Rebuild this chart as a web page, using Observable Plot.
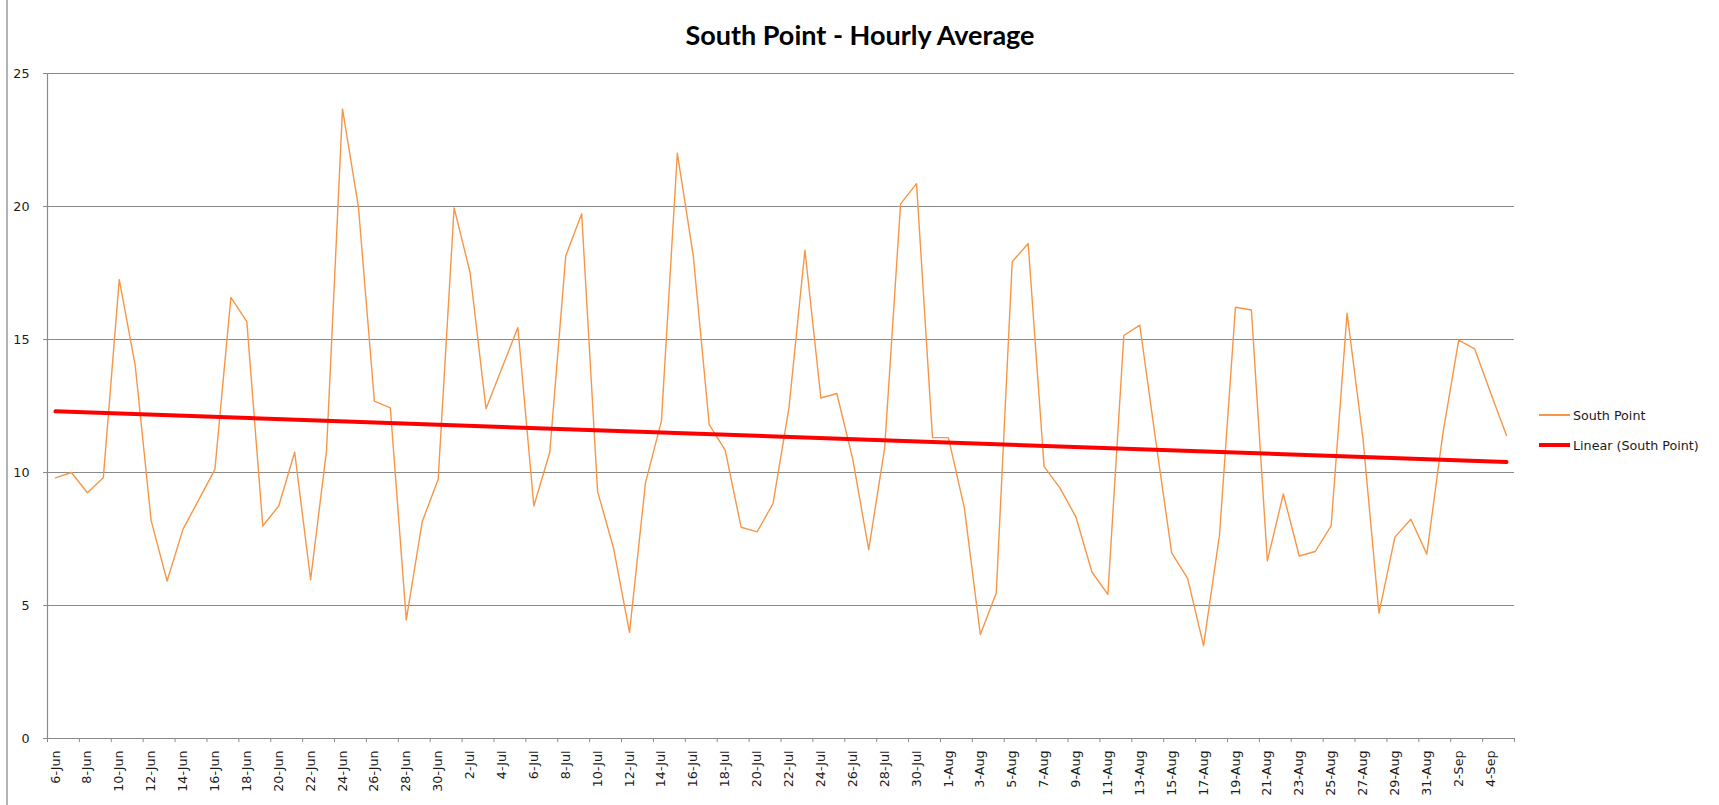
<!DOCTYPE html>
<html>
<head>
<meta charset="utf-8">
<script src="https://cdn.jsdelivr.net/npm/d3@7"></script>
<script src="https://cdn.jsdelivr.net/npm/@observablehq/plot@0.6"></script>
<style>
  body { margin: 0; background: #fff; }
  #wrap { position: relative; width: 1719px; height: 805px; overflow: hidden; background: #fff; }
  #frame { position: absolute; left: 6px; top: 0; width: 2px; height: 805px; background: #b4b4b4; }
  #title { position: absolute; left: 0; top: 21px; width: 1720px; text-align: center;
           font-family: Lato, "Open Sans", sans-serif; font-weight: 700; font-size: 27px; line-height: 27px; color: #000; }
  #chart { position: absolute; left: 0; top: 0; }
  .leg { position: absolute; left: 1539px; display: flex; align-items: center; height: 16px;
         font-family: "DejaVu Sans", sans-serif; font-size: 12.7px; color: #1a1a1a; white-space: nowrap; }
  .leg .sw { width: 31px; margin-right: 3px; }
</style>
</head>
<body>
<div id="wrap">
  <div id="frame"></div>
  <div id="title">South Point - Hourly Average</div>
  <div id="chart"></div>
  <div class="leg" id="leg1" style="top:407px;"><div class="sw" style="height:1.4px;background:#F79646;"></div><span>South Point</span></div>
  <div class="leg" id="leg2" style="top:437px;"><div class="sw" style="height:4px;background:#FF0000;"></div><span>Linear (South Point)</span></div>
</div>
<script>
const categories = [
  "6-Jun","7-Jun","8-Jun","9-Jun","10-Jun","11-Jun","12-Jun","13-Jun","14-Jun","15-Jun",
  "16-Jun","17-Jun","18-Jun","19-Jun","20-Jun","21-Jun","22-Jun","23-Jun","24-Jun","25-Jun",
  "26-Jun","27-Jun","28-Jun","29-Jun","30-Jun","1-Jul","2-Jul","3-Jul","4-Jul","5-Jul",
  "6-Jul","7-Jul","8-Jul","9-Jul","10-Jul","11-Jul","12-Jul","13-Jul","14-Jul","15-Jul",
  "16-Jul","17-Jul","18-Jul","19-Jul","20-Jul","21-Jul","22-Jul","23-Jul","24-Jul","25-Jul",
  "26-Jul","27-Jul","28-Jul","29-Jul","30-Jul","31-Jul","1-Aug","2-Aug","3-Aug","4-Aug",
  "5-Aug","6-Aug","7-Aug","8-Aug","9-Aug","10-Aug","11-Aug","12-Aug","13-Aug","14-Aug",
  "15-Aug","16-Aug","17-Aug","18-Aug","19-Aug","20-Aug","21-Aug","22-Aug","23-Aug","24-Aug",
  "25-Aug","26-Aug","27-Aug","28-Aug","29-Aug","30-Aug","31-Aug","1-Sep","2-Sep","3-Sep",
  "4-Sep","5-Sep"
];
const southPoint = [
  9.80, 10.00, 9.24, 9.80, 17.25, 14.03, 8.19, 5.92, 7.87, 8.99,
  10.12, 16.58, 15.67, 7.99, 8.74, 10.76, 5.97, 10.84, 23.67, 19.98,
  12.68, 12.43, 4.46, 8.15, 9.75, 19.95, 17.52, 12.40, 13.93, 15.45,
  8.74, 10.76, 18.14, 19.73, 9.28, 7.15, 3.99, 9.61, 11.93, 22.00,
  18.14, 11.80, 10.84, 7.94, 7.77, 8.83, 12.43, 18.36, 12.80, 12.97,
  10.50, 7.10, 10.92, 20.10, 20.86, 11.31, 11.31, 8.66, 3.91, 5.47,
  17.92, 18.61, 10.22, 9.41, 8.32, 6.26, 5.42, 15.15, 15.54, 11.20,
  6.98, 6.02, 3.49, 7.65, 16.21, 16.11, 6.68, 9.19, 6.86, 7.03,
  7.99, 15.99, 11.26, 4.71, 7.57, 8.24, 6.93, 11.43, 14.98, 14.65,
  13.00, 11.39
];
const yTicks = [0, 5, 10, 15, 20, 25];
const gridValues = [5, 10, 15, 20, 25];
const tickLabels = categories.filter((d, i) => i % 2 === 0);

const data = categories.map((c, i) => ({i, label: c, value: southPoint[i]}));
const labelIdx = tickLabels.map(l => categories.indexOf(l));
const boundaries = d3.range(0, categories.length + 1, 2).map(b => b - 0.5);

const font = "DejaVu Sans, sans-serif";
const gray = "#8a8a8a";

const chart = Plot.plot({
  width: 1719,
  height: 805,
  marginLeft: 47,
  marginRight: 205,
  marginTop: 73,
  marginBottom: 67,
  style: {fontFamily: font, fontSize: "12.7px", color: "#1a1a1a", background: "transparent"},
  x: {type: "linear", domain: [-0.5, categories.length - 0.5]},
  y: {domain: [0, 25]},
  marks: [
    Plot.gridY(gridValues, {stroke: gray, strokeOpacity: 1, strokeWidth: 1}),
    Plot.axisY(yTicks, {tickSize: 4, tickPadding: 14, stroke: gray, label: null, fontSize: 12.7}),
    Plot.axisX(boundaries, {tickSize: 4, tickFormat: () => "", stroke: gray, label: null}),
    Plot.axisX(labelIdx, {tickSize: 0, tickPadding: 12, tickRotate: -90, tickFormat: i => categories[i], label: null, fontSize: 12.7}),
    Plot.ruleX([-0.5], {y1: 0, y2: 25, stroke: gray, strokeWidth: 1.2}),
    Plot.ruleY([0], {stroke: gray, strokeWidth: 1.2}),
    Plot.lineY(data, {x: "i", y: "value", stroke: "#F79646", strokeWidth: 1.4}),
    Plot.linearRegressionY(data, {x: "i", y: "value", stroke: "#FF0000", strokeWidth: 4, ci: 0})
  ]
});
document.getElementById("chart").appendChild(chart);
</script>
</body>
</html>
